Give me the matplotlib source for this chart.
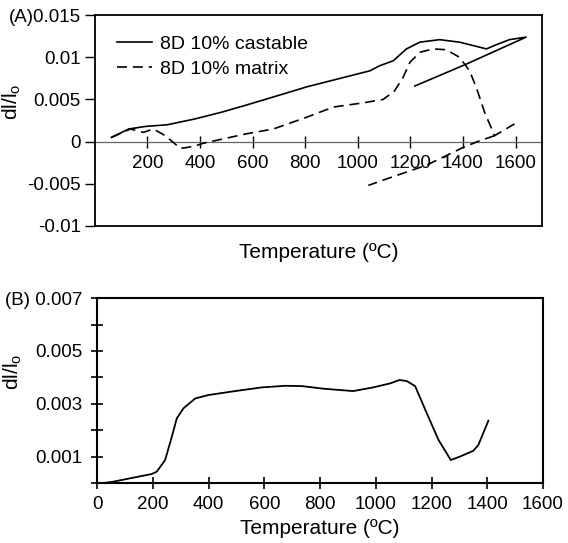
import matplotlib
matplotlib.use("Agg")
import matplotlib.pyplot as plt

plt.rcParams['font.family'] = ['Liberation Sans', 'DejaVu Sans']
plt.rcParams['mathtext.default'] = 'regular'

# panel A: castable (heating then cooling back)
cast_T = [63, 129, 192, 275, 382, 483, 572, 679, 806, 932, 1046, 1083, 1135, 1185,
          1236, 1311, 1387, 1451, 1489, 1527, 1577, 1640, 1413, 1217]
cast_y = [0.0005, 0.0015, 0.0018, 0.0020, 0.0027, 0.0035, 0.0043, 0.0053, 0.0065,
          0.0075, 0.0084, 0.0090, 0.0096, 0.0110, 0.0118, 0.0121, 0.0118, 0.0113,
          0.0110, 0.0115, 0.0121, 0.0124, 0.0092, 0.0066]

# panel A: matrix heating curve
mat_T = [63, 135, 185, 223, 268, 325, 350, 382, 412, 470, 572, 679,
         806, 907, 1020, 1096, 1122, 1135, 1172, 1198, 1236, 1286, 1337, 1387, 1425,
         1451, 1482, 1501, 1520, 1552, 1596]
mat_y = [0.0005, 0.0015, 0.0011, 0.0015, 0.0007, -0.0008, -0.0007, -0.0005,
         -0.0002, 0.0002, 0.0009, 0.0015, 0.0029, 0.0041, 0.0046,
         0.0050, 0.0056, 0.0058, 0.0076, 0.0094, 0.0106, 0.0110, 0.0109, 0.0100,
         0.0084, 0.0064, 0.0035, 0.0021, 0.0007, 0.0013, 0.0021]
# matrix cooling line
matc_T = [1520, 1463, 1400, 1261, 1084, 1040]
matc_y = [0.0007, 0.0001, -0.0007, -0.0028, -0.0047, -0.0052]

# panel B
b_T = [23, 53, 196, 214, 244, 268, 286, 310, 352, 399, 495, 591, 675, 734, 812, 919,
       991, 1051, 1085, 1111, 1141, 1183, 1225, 1269, 1302, 1350, 1368, 1404]
b_y = [0.0, 0.00004, 0.00034, 0.00043, 0.00087, 0.00175, 0.00245, 0.00283, 0.0032,
       0.00333, 0.00348, 0.00362, 0.00368, 0.00367, 0.00357, 0.00348, 0.00362,
       0.00377, 0.0039, 0.00386, 0.00367, 0.00264, 0.00163, 0.00087, 0.0010,
       0.00122, 0.00144, 0.00236]

a_yticks = [0.015, 0.01, 0.005, 0, -0.005, -0.01]
a_ylabels = ['(A)0.015', '0.01', '0.005', '0', '-0.005', '-0.01']
a_xticks = [200, 400, 600, 800, 1000, 1200, 1400, 1600]
b_yticks = [0.001, 0.003, 0.005, 0.007]
b_ylabels = ['0.001', '0.003', '0.005', '(B) 0.007']
b_yminor = [0, 0.002, 0.004, 0.006]
b_xticks = [0, 200, 400, 600, 800, 1000, 1200, 1400, 1600]

TS = 13.5
fig = plt.figure(figsize=(5.68, 5.43), dpi=100)

# ---- panel A
ax = fig.add_axes([0.167, 0.584, 0.787, 0.388])
ax.plot(cast_T, cast_y, 'k-', lw=1.2, label='8D 10% castable')
ax.plot(mat_T, mat_y, 'k-', lw=1.2, dashes=(6, 3.5), label='8D 10% matrix')
ax.plot(matc_T, matc_y, 'k-', lw=1.2, dashes=(6, 3.5))
ax.set_xlim(0, 1700)
ax.set_ylim(-0.01, 0.015)
ax.set_yticks(a_yticks)
ax.set_yticklabels(a_ylabels)
ax.tick_params(axis='y', direction='out', length=7, width=1, labelsize=TS, pad=3)
ax.tick_params(axis='x', bottom=False, labelbottom=False)
for s in ax.spines.values():
    s.set_linewidth(1.3)
ax.set_xlabel('Temperature (ºC)', fontsize=15, labelpad=12)
ax.set_ylabel(r'dl/l$_o$', fontsize=15)
ax.yaxis.set_label_coords(-0.16, 0.59)

zero_pos = (0 - (-0.01)) / (0.015 - (-0.01))
sec = ax.secondary_xaxis(zero_pos)
sec.set_xticks(a_xticks)
sec.tick_params(direction='inout', length=9, width=1, labelsize=TS, pad=5)
sec.spines['bottom'].set_color('#666666')
sec.spines['bottom'].set_linewidth(0.9)

ax.legend(loc='upper left', bbox_to_anchor=(0.049, 0.905), frameon=False,
          fontsize=14, handlelength=1.8, handletextpad=0.4, labelspacing=0.4,
          borderpad=0, borderaxespad=0)

# ---- panel B
bx = fig.add_axes([0.171, 0.1105, 0.785, 0.3405])
bx.plot(b_T, b_y, 'k-', lw=1.3)
bx.set_xlim(0, 1600)
bx.set_ylim(0, 0.007)
bx.set_xticks(b_xticks)
bx.set_yticks(b_yticks)
bx.set_yticklabels(b_ylabels)
bx.set_yticks(b_yminor, minor=True)
bx.tick_params(axis='both', which='both', direction='inout', length=9, width=1.2,
               labelsize=TS)
bx.tick_params(axis='y', pad=6)
bx.tick_params(axis='x', pad=5)
for s in bx.spines.values():
    s.set_linewidth(1.5)
bx.set_xlabel('Temperature (ºC)', fontsize=15, labelpad=4)
bx.set_ylabel(r'dl/l$_o$', fontsize=15)
bx.yaxis.set_label_coords(-0.165, 0.6)

fig.savefig('out.png', dpi=100)
